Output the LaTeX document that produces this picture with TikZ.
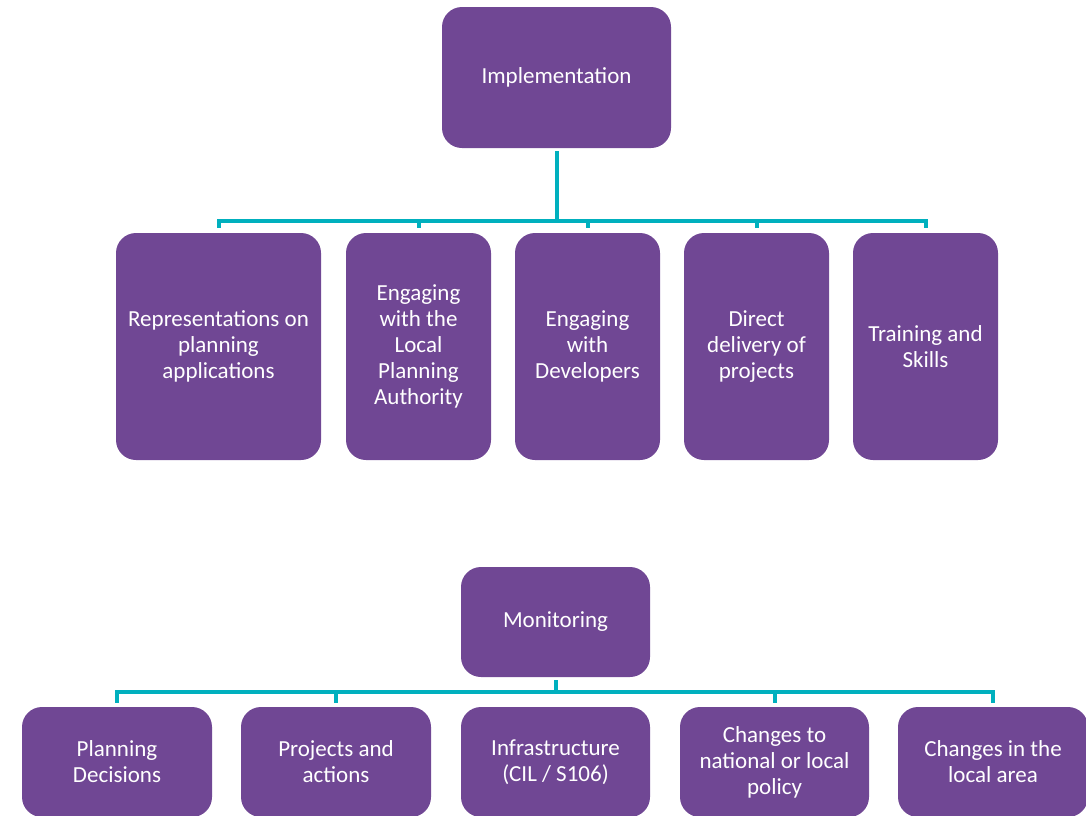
\documentclass[tikz,border=0pt]{standalone}
\usepackage{fontspec}
\setmainfont{Carlito}
\definecolor{boxpurple}{RGB}{112,71,148}
\definecolor{linkteal}{RGB}{0,176,190}
\tikzset{
    box/.style={fill=boxpurple, rounded corners=20pt, text=white, align=center, inner sep=0pt, font=\fontsize{23}{26}\selectfont},
    link/.style={draw=linkteal, line width=4pt},
}
\begin{document}
\begin{tikzpicture}[x=1pt, y=-1pt]
    \useasboundingbox (0,0) rectangle (1086,815);

    % Implementation
    \node[box, minimum width=229pt, minimum height=141pt] (impl) at (556.5,77.5) {Implementation};

    \node[box, minimum width=205pt, minimum height=227pt] (rep) at (218.5,346.5) {Representations on\\planning\\applications};
    \node[box, minimum width=145pt, minimum height=227pt] (lpa) at (418.5,346.5) {Engaging\\with the\\Local\\Planning\\Authority};
    \node[box, minimum width=145pt, minimum height=227pt] (dev) at (587.5,346.5) {Engaging\\with\\Developers};
    \node[box, minimum width=145pt, minimum height=227pt] (deliv) at (756.5,346.5) {Direct\\delivery of\\projects};
    \node[box, minimum width=145pt, minimum height=227pt] (train) at (925.5,346.5) {Training and\\Skills};

    \coordinate (ibus) at (556.5,221);
    \draw[link, shorten <=3pt] (impl.south) -- (ibus);
    \draw[link, shorten <=5pt, shorten >=5pt] (rep.north) -- (rep.north |- ibus) -- (train.north |- ibus) -- (train.north);
    \foreach \n in {lpa, dev, deliv}
        \draw[link, shorten >=5pt] (\n.north |- ibus) -- (\n.north);

    % Monitoring
    \node[box, minimum width=189pt, minimum height=110pt] (mon) at (555.5,622) {Monitoring};

    \node[box, minimum width=190pt, minimum height=110pt] (dec) at (117,762) {Planning\\Decisions};
    \node[box, minimum width=190pt, minimum height=110pt] (proj) at (336,762) {Projects and\\actions};
    \node[box, minimum width=189pt, minimum height=110pt] (infra) at (555.5,762) {Infrastructure\\(CIL / S106)};
    \node[box, minimum width=189pt, minimum height=110pt] (policy) at (774.5,762) {Changes to\\national or local\\policy};
    \node[box, minimum width=190pt, minimum height=110pt] (area) at (993,762) {Changes in the\\local area};

    \coordinate (mbus) at (555.5,692);
    \draw[link, shorten <=3pt] (mon.south) -- (mbus);
    \draw[link, shorten <=4pt, shorten >=4pt] (dec.north) -- (dec.north |- mbus) -- (area.north |- mbus) -- (area.north);
    \foreach \n in {proj, policy}
        \draw[link, shorten >=4pt] (\n.north |- mbus) -- (\n.north);
\end{tikzpicture}
\end{document}
